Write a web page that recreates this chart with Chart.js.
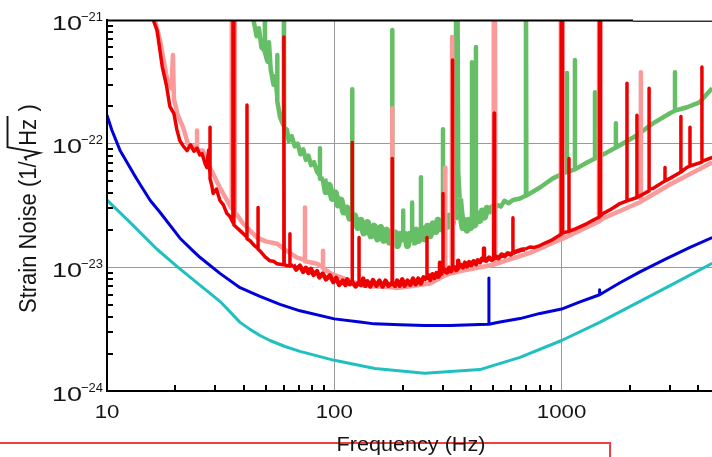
<!DOCTYPE html>
<html>
<head>
<meta charset="utf-8">
<script src="https://cdn.jsdelivr.net/npm/chart.js@4"></script>
<style>
html, body { margin: 0; padding: 0; background: #fff; }
#wrap { width: 712px; height: 457px; }
</style>
</head>
<body>
<div id="wrap"><canvas id="myChart" width="712" height="457"></canvas></div>
<script>
// Axis ticks
var xMajor = [10, 100, 1000];
var xLabels = ['10', '100', '1000'];
var xMinor = [20, 30, 40, 50, 60, 70, 80, 90, 200, 300, 400, 500, 600, 700, 800, 900, 2000, 3000, 4000];
var yMajor = [1e-24, 1e-23, 1e-22, 1e-21];
var yExp = ['\u221224', '\u221223', '\u221222', '\u221221'];
var yMinor = [2e-24, 3e-24, 4e-24, 5e-24, 6e-24, 7e-24, 8e-24, 9e-24,
	2e-23, 3e-23, 4e-23, 5e-23, 6e-23, 7e-23, 8e-23, 9e-23,
	2e-22, 3e-22, 4e-22, 5e-22, 6e-22, 7e-22, 8e-22, 9e-22];

// Series: [frequency Hz, strain 1/sqrt(Hz)]
var cyanData = [[10, 3.49e-23], [12.63, 2.31e-23], [16.6, 1.4e-23], [20.3, 1.02e-23], [25.7, 7.15e-24],
	[31.4, 5.31e-24], [38.5, 3.59e-24], [42.6, 3.15e-24], [47.1, 2.81e-24], [52.1, 2.56e-24],
	[60.7, 2.29e-24], [70.6, 2.09e-24], [100, 1.77e-24], [151, 1.52e-24], [250, 1.39e-24],
	[437, 1.49e-24], [656, 1.87e-24], [1000, 2.56e-24], [1470, 3.59e-24], [2213, 5.31e-24],
	[3319, 7.85e-24], [4600, 1.078e-23]];

var blueData = [[10, 1.70e-22], [10.5, 1.29e-22], [11.1, 1.0e-22], [11.4, 8.86e-23], [13.1, 5.7e-23],
	[13.97, 4.7e-23], [15.5, 3.47e-23], [17.1, 2.79e-23], [20.95, 1.72e-23], [23.9, 1.36e-23],
	[25.7, 1.2e-23], [31.4, 8.94e-24], [38.5, 6.84e-24], [47.1, 5.82e-24], [57.7, 5.02e-24],
	[70.6, 4.45e-24], [100, 3.83e-24], [129.8, 3.62e-24], [150, 3.49e-24], [194.5, 3.44e-24],
	[250, 3.38e-24], [322.8, 3.39e-24], [437, 3.45e-24],
	[479, 3.46e-24], [479, 8.2e-24], [479, 3.47e-24],
	[535.8, 3.62e-24], [656, 3.85e-24], [803.5, 4.24e-24], [1000, 4.6e-24], [1205, 5.25e-24],
	[1470, 6.0e-24], [1470, 6.6e-24], [1470, 6.0e-24],
	[1807, 7.5e-24], [2213, 9.2e-24], [2850, 1.16e-23], [3673, 1.45e-23], [4600, 1.74e-23]];

var redData = [[15.8, 1.3e-21], [16.1, 9.6e-22], [16.6, 8.3e-22], [17.5, 4.2e-22], [18.3, 2.9e-22],
	[18.9, 2.0e-22], [19.7, 1.75e-22], [20.3, 1.3e-22], [20.9, 1.06e-22], [21.7, 9.5e-23],
	[22.5, 8.8e-23], [23.3, 9.8e-23], [24.1, 8.7e-23], [24.9, 9.2e-23], [25.6, 8.1e-23],
	[26.2, 8.3e-23], [27.0, 6.9e-23], [27.5, 6.4e-23], [28.0, 8.9e-23],
	[28.4, 5.6e-23], [28.4, 1.36e-22], [28.4, 5.2e-23],
	[28.9, 4.6e-23], [29.3, 3.95e-23], [30.3, 4.3e-23], [31.4, 3.47e-23], [32.5, 3.2e-23],
	[33.7, 2.72e-23], [34.6, 2.6e-23], [35.5, 2.39e-23],
	[35.8, 2.3e-23], [35.85, 3e-21], [36.15, 3e-21], [36.2, 2.2e-23],
	[37.2, 2.1e-23], [38.5, 1.98e-23], [40.0, 1.85e-23],
	[41.3, 1.75e-23], [41.3, 2.05e-22], [41.3, 1.7e-23],
	[42.6, 1.64e-23], [44.5, 1.5e-23],
	[46.2, 1.42e-23], [46.2, 3.04e-23], [46.2, 1.4e-23],
	[47.1, 1.36e-23], [49.5, 1.22e-23], [52.1, 1.13e-23], [54, 1.12e-23], [56, 1.07e-23],
	[59.8, 1.05e-23], [60, 7.3e-22], [60.2, 1.05e-23],
	[62, 1.03e-23],
	[63.8, 1.03e-23], [63.8, 1.87e-23], [63.8, 1.02e-23],
	[66, 1.05e-23], [68, 9.6e-24], [70.6, 1.03e-23], [73, 9.2e-24], [75, 9.9e-24], [77, 9.0e-24],
	[79, 9.7e-24], [81, 8.7e-24], [83.9, 9.3e-24], [86, 8.3e-24], [89, 8.9e-24], [92, 8.0e-24],
	[95.7, 8.6e-24], [99, 7.6e-24], [102, 8.2e-24], [105, 7.2e-24], [109, 7.8e-24], [112, 7.2e-24],
	[114, 8.0e-24], [117, 7.3e-24],
	[120, 7.6e-24], [120, 1.02e-22], [120, 7.6e-24],
	[124, 7.0e-24],
	[128.5, 7.6e-24], [128.5, 1.74e-23], [128.5, 7.5e-24],
	[131, 7.2e-24], [134, 8.1e-24], [137, 7.1e-24], [140, 7.7e-24], [144, 7.0e-24], [148, 7.9e-24],
	[153, 7.1e-24], [158, 7.8e-24], [163, 7.0e-24], [168, 7.8e-24], [173, 7.1e-24],
	[180, 7.5e-24], [180, 7.6e-23], [180, 7.5e-24],
	[185, 7.1e-24], [189, 7.8e-24], [194, 7.1e-24], [199, 8.0e-24], [204, 7.1e-24], [210, 7.8e-24],
	[216, 7.2e-24], [222, 8.1e-24], [228, 7.3e-24], [234, 8.1e-24], [240, 7.4e-24], [247, 8.3e-24],
	[255.8, 7.9e-24], [255.8, 1.74e-23], [255.8, 7.9e-24],
	[260, 8.6e-24], [264, 7.9e-24], [270, 8.8e-24], [276, 8.2e-24], [282, 9.0e-24], [287, 8.4e-24],
	[291.7, 8.8e-24], [291.7, 1.09e-23], [291.7, 8.8e-24],
	[300.8, 9.0e-24], [300.8, 3.95e-23], [300.8, 9.0e-24],
	[306, 9.6e-24], [313, 9.1e-24], [320, 9.9e-24], [326, 9.3e-24],
	[330, 9.6e-24], [331, 4.74e-22], [332, 9.6e-24],
	[338, 1.0e-23], [344, 9.5e-24],
	[351, 9.9e-24], [351, 1.13e-23], [351, 9.9e-24],
	[358, 1.05e-23], [368, 1.0e-23], [376, 1.09e-23], [384, 1.02e-23], [392, 1.1e-23], [400, 1.04e-23],
	[410, 1.12e-23], [420, 1.06e-23], [428, 1.14e-23], [437, 1.1e-23], [446, 1.17e-23],
	[455.8, 1.15e-23], [455.8, 1.42e-23], [455.8, 1.15e-23],
	[466, 1.13e-23], [480, 1.2e-23], [492, 1.15e-23],
	[503, 1.18e-23], [505, 1.76e-22], [507, 1.18e-23],
	[514, 1.22e-23], [528, 1.18e-23], [545, 1.27e-23], [560, 1.23e-23], [580, 1.3e-23], [595, 1.27e-23],
	[611, 1.31e-23], [611, 2.52e-23], [611, 1.31e-23],
	[630, 1.34e-23], [660, 1.38e-23], [690, 1.4e-23], [726, 1.46e-23], [760, 1.45e-23], [803, 1.5e-23],
	[850, 1.58e-23], [900, 1.65e-23],
	[995, 1.85e-23], [997, 3e-21], [1005, 3e-21], [1008, 1.9e-23],
	[1078, 1.95e-23], [1078, 7.6e-23], [1078, 1.95e-23],
	[1150, 2.05e-23], [1294, 2.26e-23], [1400, 2.45e-23],
	[1465, 2.55e-23], [1468, 3e-21], [1478, 3e-21], [1482, 2.6e-23],
	[1521, 2.72e-23], [1650, 2.95e-23], [1806, 3.28e-23],
	[1940, 3.45e-23], [1940, 3.08e-22], [1940, 3.45e-23],
	[2146, 3.67e-23], [2146, 1.70e-22], [2146, 3.67e-23],
	[2427, 4.15e-23], [2427, 2.81e-22], [2427, 4.3e-23],
	[2523, 4.34e-23],
	[2851, 5.0e-23], [2851, 6.43e-23], [2851, 5.0e-23],
	[2999, 5.24e-23],
	[3350, 5.9e-23], [3350, 1.66e-22], [3350, 5.9e-23],
	[3565, 6.43e-23],
	[3672, 6.6e-23], [3672, 1.36e-22], [3672, 6.6e-23],
	[4145, 7.1e-23], [4145, 4.16e-22], [4145, 7.2e-23],
	[4600, 7.74e-23]];

var pinkData = [[15.9, 1.3e-21], [16.3, 9.6e-22], [17.1, 6.9e-22], [18.4, 3.3e-22],
	[19.2, 2.8e-22], [19.5, 5.2e-22], [19.7, 2.3e-22],
	[20.5, 1.7e-22], [21.6, 1.36e-22], [22.7, 1.0e-22], [24.0, 9.5e-23],
	[24.9, 9.0e-23], [24.9, 1.28e-22], [24.9, 8.8e-23],
	[26.4, 8.8e-23], [28.4, 6.4e-23], [31.4, 4.4e-23], [33.7, 3.5e-23],
	[35.3, 3.0e-23], [35.4, 3e-21], [36.4, 3e-21], [36.5, 2.8e-23],
	[39.7, 2.26e-23], [45.7, 1.74e-23], [50, 1.62e-23], [56, 1.55e-23], [62, 1.35e-23], [68.5, 1.2e-23],
	[74.3, 1.15e-23], [74.3, 3.04e-23], [74.3, 1.12e-23],
	[83.9, 1.07e-23],
	[89.2, 1.0e-23], [89.2, 1.36e-23], [89.2, 9.8e-24],
	[95.7, 9.0e-24], [109, 8.2e-24], [134, 7.1e-24],
	[180, 6.9e-24], [180, 1.93e-22], [180, 6.9e-24],
	[189, 6.8e-24], [264, 7.4e-24],
	[306, 8.6e-24], [307, 6.4e-23], [308, 8.6e-24],
	[329, 9.0e-24], [330, 7.3e-22], [333, 9.0e-24],
	[368, 9.4e-24],
	[501, 1.05e-23], [503, 3e-21], [509, 3e-21], [511, 1.06e-23],
	[726, 1.31e-23],
	[990, 1.68e-23], [993, 3e-21], [1008, 3e-21], [1012, 1.7e-23],
	[1460, 2.35e-23], [1463, 3e-21], [1480, 3e-21], [1484, 2.4e-23],
	[1521, 2.48e-23], [2146, 3.28e-23],
	[2234, 3.4e-23], [2234, 3.78e-22], [2234, 3.4e-23],
	[2999, 4.68e-23], [4600, 7.05e-23]];

var greenData = [[43.5, 1.3e-21], [44.3, 9.6e-22], [45.5, 7.4e-22], [46.6, 8.6e-22], [47.8, 6.0e-22],
	[49.1, 5.7e-22],
	[49.5, 5.5e-22], [49.5, 3e-21], [49.6, 5.4e-22],
	[50.8, 4.6e-22], [51.6, 6.6e-22], [52.5, 4.0e-22], [54, 3.0e-22], [55, 3.5e-22],
	[56, 2.5e-22], [56, 5.2e-22], [56.3, 2.2e-22],
	[57.7, 1.64e-22],
	[59.8, 1.4e-22], [60, 3e-21], [60.2, 1.35e-22],
	[61.9, 1.3e-22], [63, 1.05e-22], [65, 1.15e-22], [67, 9.5e-23], [69, 1.0e-22], [71, 8.2e-23],
	[73, 9.0e-23], [75, 7.4e-23], [77, 8.0e-23], [79, 6.7e-23], [81.4, 7.1e-23], [84, 5.9e-23],
	[86.5, 5.5e-23], [86.5, 9.2e-23], [86.5, 5.2e-23],
	[90, 5.2e-23], [92, 4.1e-23], [95, 4.6e-23], [98, 3.6e-23], [101, 4.0e-23], [104, 3.2e-23],
	[107, 3.5e-23], [110, 2.8e-23], [114, 3.0e-23], [117, 2.5e-23],
	[120, 2.7e-23], [120, 2.75e-22], [120, 2.5e-23],
	[123, 2.6e-23], [127, 2.1e-23], [131, 2.4e-23], [135, 1.9e-23], [140, 2.3e-23], [145, 1.8e-23],
	[150, 2.15e-23], [155, 1.7e-23], [160, 2.1e-23], [165, 1.65e-23], [170, 2.0e-23], [175, 1.6e-23],
	[180, 1.8e-23], [180, 8.3e-22], [180, 1.8e-23],
	[185, 1.9e-23], [190, 1.5e-23], [195, 1.85e-23],
	[201, 1.6e-23], [201, 2.88e-23], [201, 1.6e-23],
	[205, 1.85e-23], [210, 1.5e-23], [215, 1.85e-23],
	[220, 1.6e-23], [220, 3.34e-23], [220, 1.6e-23],
	[225, 1.6e-23], [230, 2.0e-23], [235, 1.65e-23],
	[240.6, 1.8e-23], [240.6, 5.34e-23], [240.6, 1.8e-23],
	[245, 2.05e-23], [250, 1.7e-23], [257, 2.15e-23], [264, 1.8e-23], [272, 2.25e-23], [280, 1.95e-23],
	[286, 2.4e-23], [291.7, 2.05e-23],
	[300.8, 2.3e-23], [300.8, 1.31e-22], [300.8, 2.3e-23],
	[308, 2.6e-23], [315, 2.15e-23], [322, 2.6e-23], [330, 2.25e-23], [336, 2.7e-23],
	[341, 2.4e-23], [344, 3e-21], [348, 3e-21], [351, 6.0e-23],
	[356, 3.6e-23], [362, 2.6e-23], [368, 2.1e-23], [375, 2.4e-23], [384, 2.0e-23], [392, 2.4e-23],
	[398, 2.1e-23],
	[403.5, 2.3e-23], [403.5, 4.56e-22], [403.5, 2.3e-23],
	[410, 2.55e-23], [415, 2.2e-23],
	[420, 2.4e-23], [420, 6.04e-22], [420, 2.4e-23],
	[428, 2.7e-23], [437, 2.4e-23], [447, 2.85e-23], [458, 2.55e-23], [470, 3.0e-23], [480, 2.7e-23],
	[492, 3.1e-23], [505, 2.9e-23], [520, 3.2e-23], [540, 3.1e-23], [560, 3.45e-23], [585, 3.3e-23],
	[611, 3.5e-23], [656, 3.6e-23],
	[694, 3.8e-23], [697, 3e-21], [700, 3.8e-23],
	[803, 4.42e-23], [916, 5.24e-23], [1014, 5.74e-23],
	[1056, 5.9e-23], [1056, 3.72e-22], [1056, 5.9e-23],
	[1145, 6.2e-23], [1145, 4.74e-22], [1145, 6.2e-23],
	[1294, 7.05e-23],
	[1403, 7.6e-23], [1403, 2.61e-22], [1403, 7.6e-23],
	[1585, 8.5e-23],
	[1734, 9.3e-23], [1734, 1.46e-22], [1734, 9.3e-23],
	[1806, 9.7e-23], [2146, 1.17e-22], [2523, 1.46e-22], [2999, 1.76e-22],
	[3155, 1.85e-22], [3155, 3.78e-22], [3155, 1.85e-22],
	[3565, 1.97e-22], [4044, 2.16e-22], [4600, 2.81e-22]];

var FONT = "'Liberation Sans', Arial, sans-serif";
var INK = '#151515';

// Convert [f, v] pairs into chart points
function toPoints(arr) {
	return arr.map(function (p) {
		return { x: p[0], y: p[1] };
	});
}

// Thicker stroke on the noisy stretch, thin on lines (spikes)
function noisyWidth(lo, hi, wide, thin) {
	return function (c) {
		var x0 = c.p0.parsed.x, x1 = c.p1.parsed.x;
		var r = c.p1.parsed.y / c.p0.parsed.y;
		if (x0 >= lo && x1 <= hi && r < 1.6 && r > 0.62) {
			return wide;
		}
		return thin;
	};
}

// One line dataset
function serie(label, arr, color, width, segWidth) {
	var ds = {
		label: label,
		data: toPoints(arr),
		borderColor: color,
		backgroundColor: color,
		borderWidth: width,
		showLine: true,
		pointRadius: 0,
		tension: 0,
		fill: false,
		clip: 0,
		borderJoinStyle: 'round'
	};
	if (segWidth) {
		ds.segment = { borderWidth: segWidth };
	}
	return ds;
}

// Horizontally stretched text
function stretchText(ctx, text, x, y, sx, align) {
	ctx.save();
	ctx.translate(x, y);
	ctx.scale(sx, 1);
	ctx.textAlign = align;
	ctx.fillText(text, 0, 0);
	ctx.restore();
}

// Ticks, labels, titles and frame drawn over the plot
var decor = {
	id: 'decor',
	afterDraw: function (chart) {
		var ctx = chart.ctx;
		var a = chart.chartArea;
		var xs = chart.scales.x;
		var ys = chart.scales.y;
		ctx.save();

		// inward minor ticks
		ctx.strokeStyle = '#000';
		ctx.lineWidth = 2;
		ctx.beginPath();
		yMinor.forEach(function (v) {
			var y = Math.round(ys.getPixelForValue(v));
			ctx.moveTo(a.left, y);
			ctx.lineTo(a.left + 6, y);
		});
		xMinor.forEach(function (v) {
			var x = Math.round(xs.getPixelForValue(v));
			ctx.moveTo(x, a.bottom);
			ctx.lineTo(x, a.bottom - 6);
		});
		ctx.stroke();

		// top frame
		ctx.beginPath();
		ctx.lineWidth = 2;
		ctx.moveTo(a.left - 1, a.top + 0.5);
		ctx.lineTo(633, a.top + 0.5);
		ctx.stroke();
		ctx.beginPath();
		ctx.lineWidth = 1;
		ctx.strokeStyle = '#333';
		ctx.moveTo(633, a.top + 1.5);
		ctx.lineTo(712, a.top + 1.5);
		ctx.stroke();

		ctx.fillStyle = INK;
		ctx.textBaseline = 'alphabetic';

		// y tick labels 10^n
		yMajor.forEach(function (v, i) {
			var ty = ys.getPixelForValue(v);
			ctx.font = '20px ' + FONT;
			stretchText(ctx, '10', 82, ty + 9.5, 1.35, 'right');
			ctx.font = '13px ' + FONT;
			ctx.textAlign = 'right';
			ctx.fillText(yExp[i], 103, ty + 0.5);
		});

		// x tick labels
		ctx.font = '19px ' + FONT;
		xMajor.forEach(function (v, i) {
			stretchText(ctx, xLabels[i], xs.getPixelForValue(v), 417.5, 1.17, 'center');
		});

		// red box line
		ctx.strokeStyle = '#f04040';
		ctx.lineWidth = 2;
		ctx.beginPath();
		ctx.moveTo(0, 443);
		ctx.lineTo(610, 443);
		ctx.lineTo(610, 457);
		ctx.stroke();

		// x title
		ctx.font = '20px ' + FONT;
		stretchText(ctx, 'Frequency (Hz)', 411, 450.5, 1.08, 'center');

		// y title with radical
		var fs = 22;
		ctx.font = fs + 'px ' + FONT;
		ctx.save();
		ctx.translate(35.5, 313);
		ctx.scale(1.06, 1);
		ctx.rotate(-Math.PI / 2);
		ctx.textAlign = 'left';
		var p1 = 'Strain Noise (1/';
		var w1 = ctx.measureText(p1).width;
		ctx.fillText(p1, 0, 0);
		var r0 = w1 + 1;
		var whz = ctx.measureText('Hz').width;
		var top = -1.2 * fs;
		ctx.strokeStyle = INK;
		ctx.lineWidth = 1.8;
		ctx.lineJoin = 'miter';
		ctx.beginPath();
		ctx.moveTo(r0, -0.38 * fs);
		ctx.lineTo(r0 + 0.14 * fs, -0.46 * fs);
		ctx.lineTo(r0 + 0.34 * fs, 0.18 * fs);
		ctx.lineTo(r0 + 0.6 * fs, top);
		ctx.lineTo(r0 + 0.72 * fs + whz + 0.08 * fs, top);
		ctx.stroke();
		ctx.fillText('Hz', r0 + 0.66 * fs, 0);
		ctx.fillText(' )', r0 + 0.66 * fs + whz + 0.06 * fs, 0);
		ctx.restore();

		ctx.restore();
	}
};

// Create the chart
function crearGrafico() {
	var ctx = document.getElementById('myChart').getContext('2d');
	new Chart(ctx, {
		type: 'scatter',
		data: {
			datasets: [
				serie('Design A', blueData, '#0000d8', 3),
				serie('Design B', cyanData, '#20c0c0', 3),
				serie('H1', redData, '#ee0000', 3.5, noisyWidth(64, 720, 4.5, 3.5)),
				serie('L1', pinkData, '#fa9a9a', 4.5),
				serie('Early', greenData, '#66bf66', 4.5, noisyWidth(88, 480, 7, 4.5))
			]
		},
		options: {
			responsive: false,
			animation: false,
			devicePixelRatio: 1,
			layout: { padding: { top: 20, right: 0, bottom: 0, left: 0 } },
			plugins: {
				legend: { display: false },
				tooltip: { enabled: false }
			},
			scales: {
				x: {
					type: 'logarithmic',
					min: 10,
					max: 4590,
					afterBuildTicks: function (s) {
						s.ticks = xMajor.map(function (v) { return { value: v }; });
					},
					afterFit: function (s) { s.height = 66; },
					ticks: { display: false },
					grid: { color: '#9a9a9a', lineWidth: 1, drawTicks: false },
					border: { display: true, color: '#000', width: 2, z: 1 }
				},
				y: {
					type: 'logarithmic',
					min: 1e-24,
					max: 1e-21,
					afterBuildTicks: function (s) {
						s.ticks = yMajor.map(function (v) { return { value: v }; });
					},
					afterFit: function (s) { s.width = 107; },
					ticks: { display: false },
					grid: { color: '#9a9a9a', lineWidth: 1, drawTicks: false },
					border: { display: true, color: '#000', width: 2, z: 1 }
				}
			}
		},
		plugins: [decor]
	});
}

window.onload = crearGrafico;
</script>
</body>
</html>
